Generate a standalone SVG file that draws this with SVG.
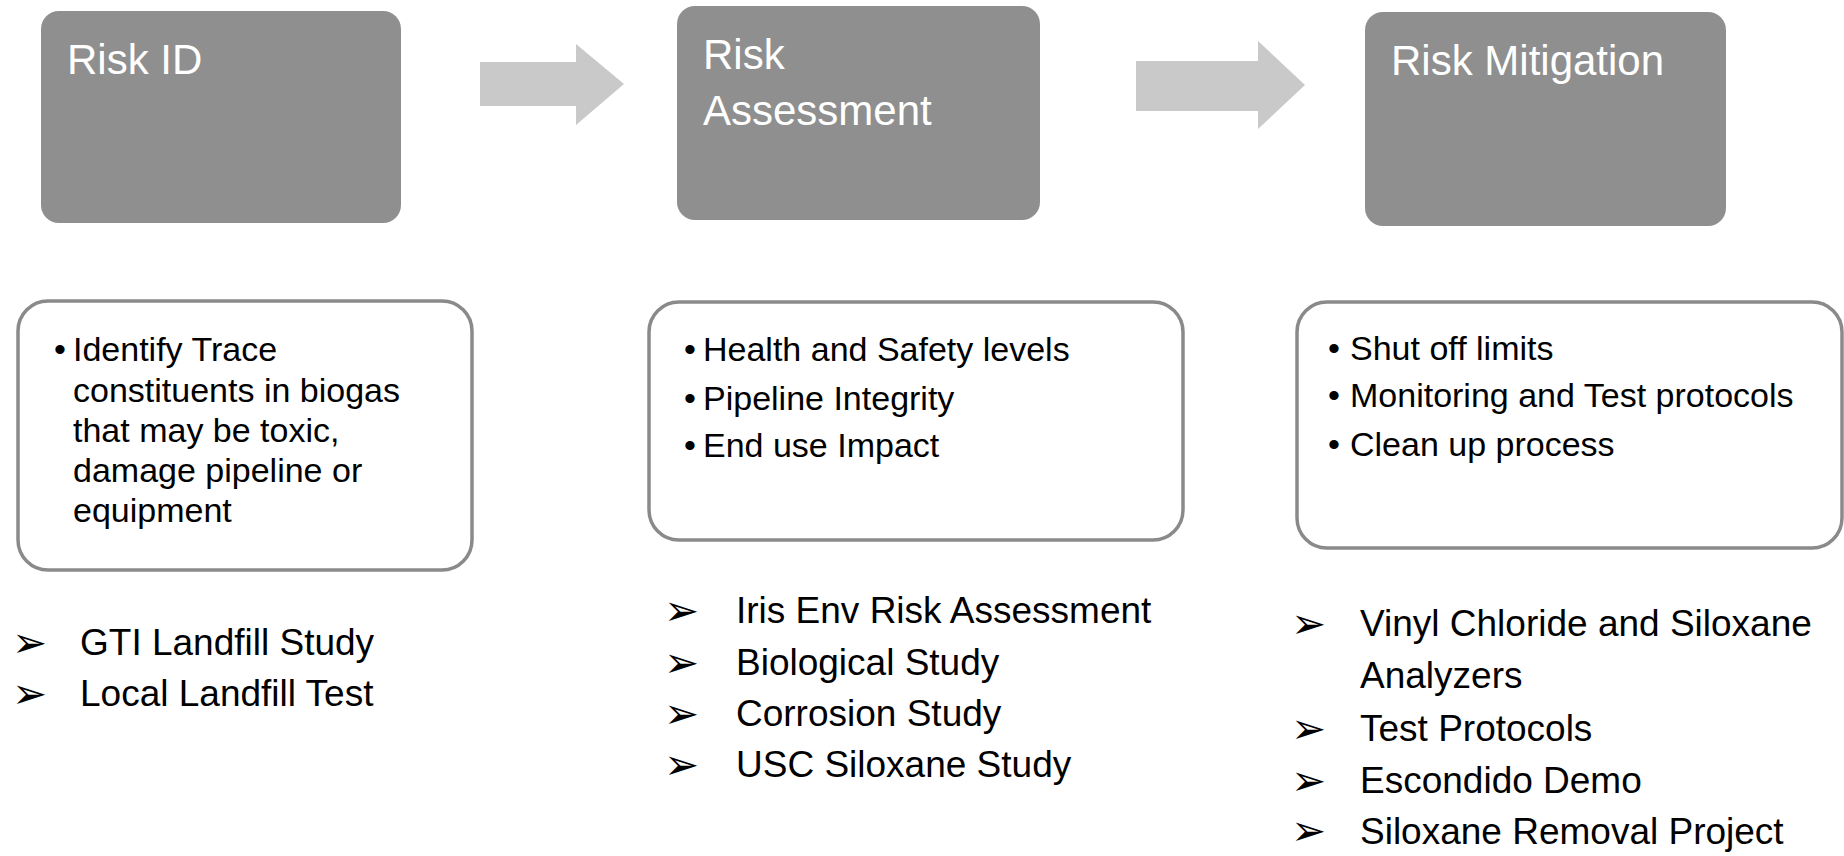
<svg xmlns="http://www.w3.org/2000/svg" width="1844" height="856" viewBox="0 0 1844 856">
<style>
.stage{fill:#8f8f8f;}
.stitle{font-family:"Liberation Sans",Arial,sans-serif;font-size:42px;fill:#ffffff;}
.card{fill:#ffffff;stroke:#8a8a8a;stroke-width:3.5;}
.body{font-family:"Liberation Sans",Arial,sans-serif;font-size:34px;fill:#000000;}
.list{font-family:"Liberation Sans",Arial,sans-serif;font-size:37px;fill:#000000;}
.mark{font-family:"DejaVu Sans",sans-serif;font-size:42px;fill:#000000;}
.flow{fill:#c9c9c9;}
</style>
<rect width="1844" height="856" fill="#ffffff"/>
<g id="connectors">
<polygon class="flow" points="480,62 576,62 576,44 624,84 576,125 576,106 480,106"/>
<polygon class="flow" points="1136,61 1258,61 1258,41 1305,85 1258,129 1258,111 1136,111"/>
</g>
<g id="risk-id">
<rect class="stage" x="41" y="11" width="360" height="212" rx="18"/>
<text class="stitle" x="67" y="74">Risk ID</text>
</g>
<g id="risk-assessment">
<rect class="stage" x="677" y="6" width="363" height="214" rx="18"/>
<text class="stitle" x="703" y="69">Risk</text>
<text class="stitle" x="703" y="125">Assessment</text>
</g>
<g id="risk-mitigation">
<rect class="stage" x="1365" y="12" width="361" height="214" rx="18"/>
<text class="stitle" x="1391" y="75">Risk Mitigation</text>
</g>
<g id="card-id">
<rect class="card" x="18" y="301" width="454" height="269" rx="30"/>
<text class="body" x="54" y="361">•</text>
<text class="body" x="73" y="361">Identify Trace</text>
<text class="body" x="73" y="402">constituents in biogas</text>
<text class="body" x="73" y="442">that may be toxic,</text>
<text class="body" x="73" y="482">damage pipeline or</text>
<text class="body" x="73" y="522">equipment</text>
</g>
<g id="card-assessment">
<rect class="card" x="649" y="302" width="534" height="238" rx="30"/>
<text class="body" x="684" y="361">•</text>
<text class="body" x="703" y="361">Health and Safety levels</text>
<text class="body" x="684" y="410">•</text>
<text class="body" x="703" y="410">Pipeline Integrity</text>
<text class="body" x="684" y="457">•</text>
<text class="body" x="703" y="457">End use Impact</text>
</g>
<g id="card-mitigation">
<rect class="card" x="1297" y="302" width="545" height="246" rx="30"/>
<text class="body" x="1328" y="360">•</text>
<text class="body" x="1350" y="360">Shut off limits</text>
<text class="body" x="1328" y="407">•</text>
<text class="body" x="1350" y="407">Monitoring and Test protocols</text>
<text class="body" x="1328" y="456">•</text>
<text class="body" x="1350" y="456">Clean up  process</text>
</g>
<g id="list-id">
<text class="mark" x="12" y="657">➢</text>
<text class="list" x="80" y="655">GTI Landfill Study</text>
<text class="mark" x="12" y="708">➢</text>
<text class="list" x="80" y="706">Local Landfill Test</text>
</g>
<g id="list-assessment">
<text class="mark" x="664" y="625">➢</text>
<text class="list" x="736" y="623">Iris Env Risk Assessment</text>
<text class="mark" x="664" y="677">➢</text>
<text class="list" x="736" y="675">Biological Study</text>
<text class="mark" x="664" y="728">➢</text>
<text class="list" x="736" y="726">Corrosion Study</text>
<text class="mark" x="664" y="779">➢</text>
<text class="list" x="736" y="777">USC Siloxane Study</text>
</g>
<g id="list-mitigation">
<text class="mark" x="1291" y="638">➢</text>
<text class="list" x="1360" y="636">Vinyl Chloride and Siloxane</text>
<text class="list" x="1360" y="688">Analyzers</text>
<text class="mark" x="1291" y="743">➢</text>
<text class="list" x="1360" y="741">Test Protocols</text>
<text class="mark" x="1291" y="795">➢</text>
<text class="list" x="1360" y="793">Escondido Demo</text>
<text class="mark" x="1291" y="845">➢</text>
<text class="list" x="1360" y="844">Siloxane Removal Project</text>
</g>
</svg>
